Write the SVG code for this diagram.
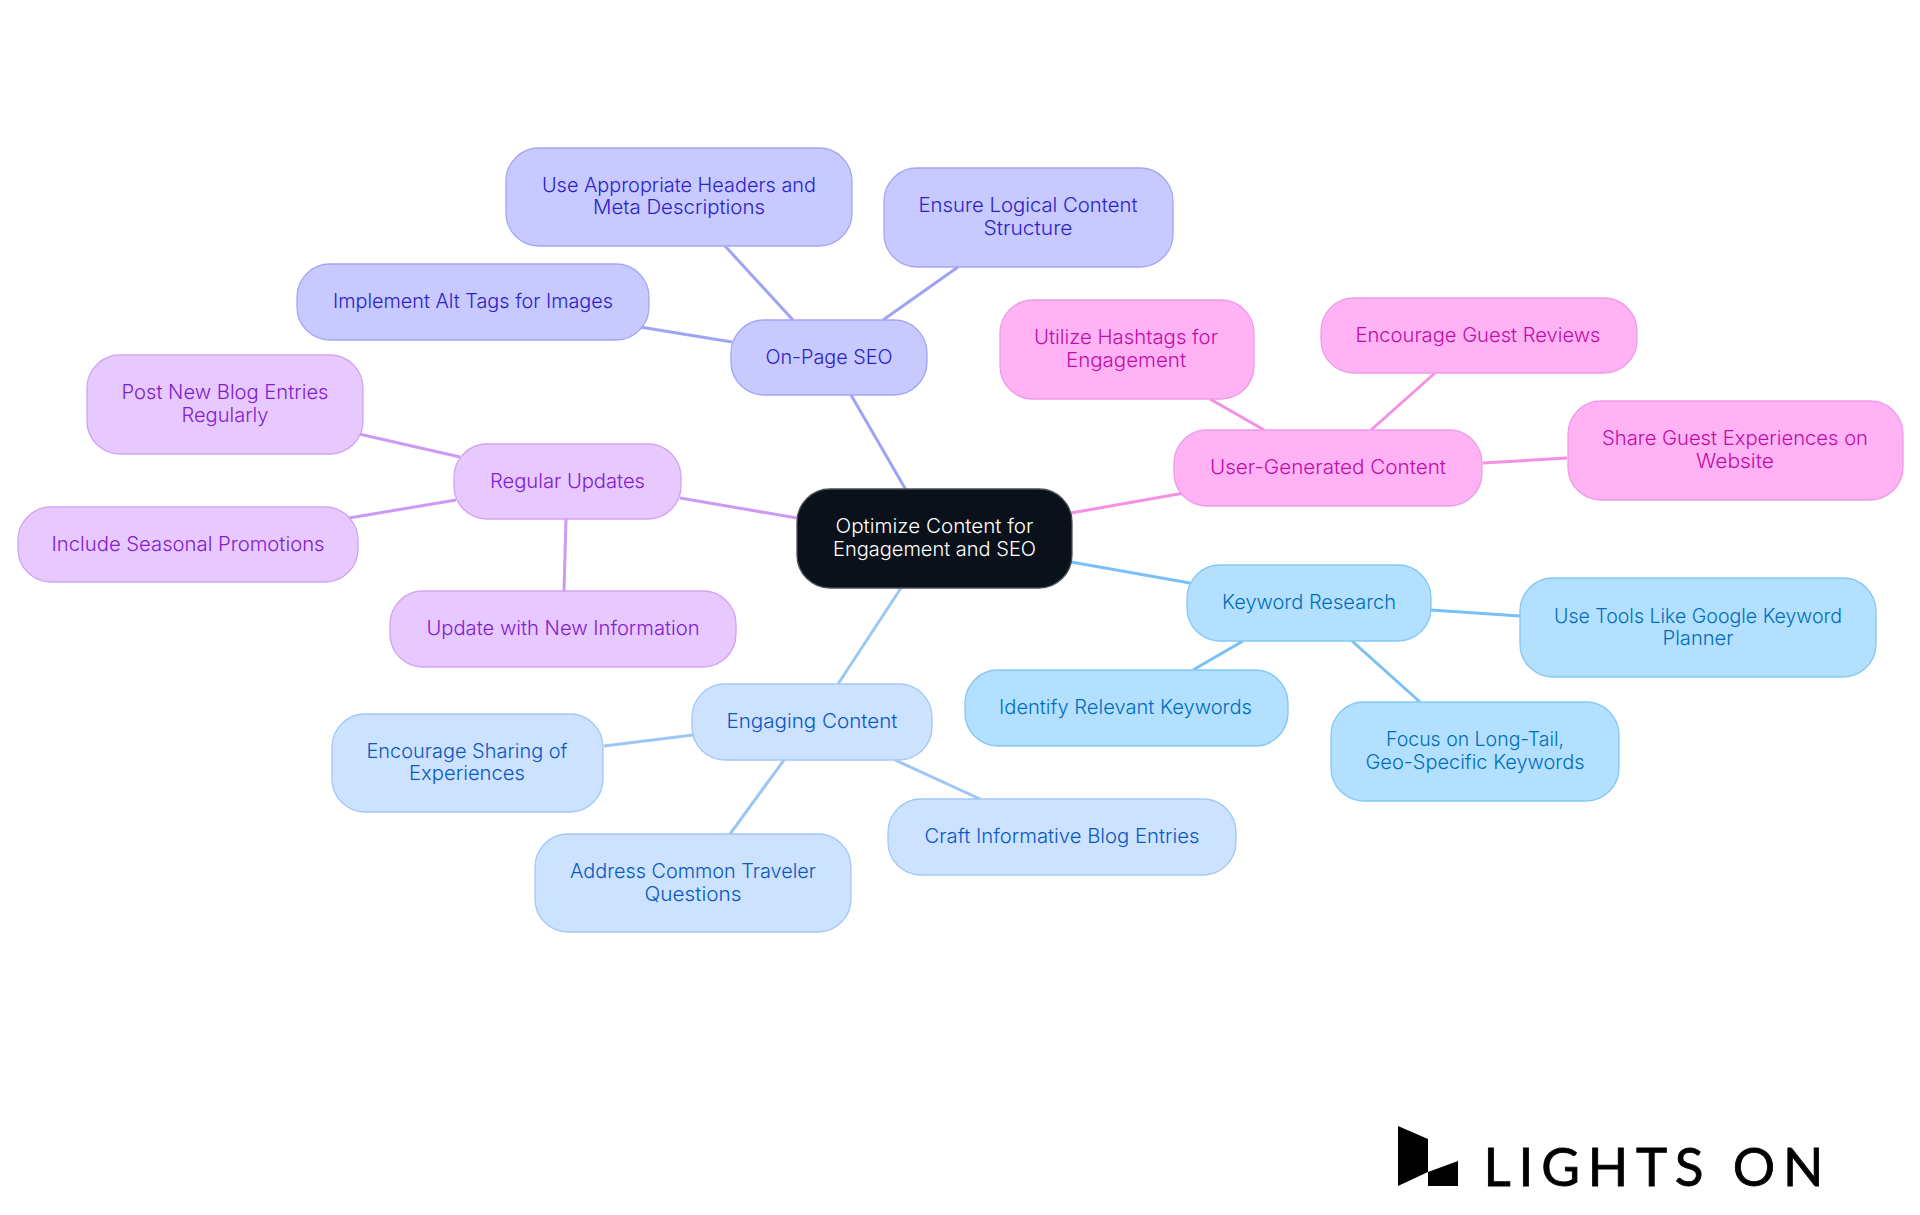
<svg xmlns="http://www.w3.org/2000/svg" width="1920" height="1215" viewBox="0 0 1920 1215">
<style>
text{font-family:"Inter","Noto Sans","Liberation Sans",sans-serif;font-size:20px;font-weight:360;text-anchor:middle}
rect{stroke-width:1.3}
#connectors line{stroke-width:3;fill:none}
.i rect{fill:#c7c9ff;stroke:#a3a6f5}.i text{fill:#2c22c8}
.p rect{fill:#ffb3f5;stroke:#f09ae6}.p text{fill:#c00ca8}
.s rect{fill:#b3e0ff;stroke:#84c7f5}.s text{fill:#006ebc}
.b rect{fill:#cce2ff;stroke:#a2c9f5}.b text{fill:#0a58c4}
.v rect{fill:#e8c9ff;stroke:#d2a2f5}.v text{fill:#7f20d0}
.il{stroke:#a0a3f5}.pl{stroke:#f590e2}.sl{stroke:#78c0f5}.bl{stroke:#9ec6f5}.vl{stroke:#cc99f5}
</style>
<rect width="1920" height="1215" fill="#fff" stroke="none"/>
<g id="connectors">
<line class="il" x1="851" y1="395" x2="906" y2="490"/>
<line class="vl" x1="680" y1="498" x2="797" y2="518"/>
<line class="pl" x1="1071" y1="513" x2="1184" y2="493"/>
<line class="sl" x1="1071" y1="562" x2="1190" y2="583"/>
<line class="bl" x1="901" y1="588" x2="838" y2="684"/>
<line class="il" x1="725" y1="246" x2="793" y2="320"/>
<line class="il" x1="640" y1="327" x2="732" y2="342"/>
<line class="il" x1="958" y1="267" x2="883" y2="320"/>
<line class="vl" x1="359" y1="434" x2="460" y2="457"/>
<line class="vl" x1="349" y1="518" x2="456" y2="500"/>
<line class="vl" x1="566" y1="519" x2="564" y2="591"/>
<line class="pl" x1="1210" y1="399" x2="1264" y2="430"/>
<line class="pl" x1="1435" y1="373" x2="1371" y2="430"/>
<line class="pl" x1="1483" y1="463" x2="1567" y2="458"/>
<line class="sl" x1="1431" y1="610" x2="1520" y2="616"/>
<line class="sl" x1="1243" y1="641" x2="1193" y2="670"/>
<line class="sl" x1="1352" y1="641" x2="1420" y2="702"/>
<line class="bl" x1="604" y1="746" x2="693" y2="735"/>
<line class="bl" x1="784" y1="760" x2="730" y2="834"/>
<line class="bl" x1="895" y1="760" x2="980" y2="799"/>
</g>
<g id="center"><rect x="797" y="489" width="275" height="99" rx="33" fill="#0b111a" stroke="#4a4f57"/>
<text x="934.5" y="533" fill="#fff" textLength="198" lengthAdjust="spacingAndGlyphs">Optimize Content for</text>
<text x="934.5" y="556" fill="#fff" textLength="203" lengthAdjust="spacingAndGlyphs">Engagement and SEO</text></g>

<g id="on-page-seo" class="i"><rect x="731" y="320" width="196" height="75" rx="33"/><text x="829" y="364" textLength="127" lengthAdjust="spacingAndGlyphs">On-Page SEO</text></g>
<g id="use-headers" class="i"><rect x="506" y="148" width="346" height="98" rx="33"/><text x="679" y="192" textLength="274" lengthAdjust="spacingAndGlyphs">Use Appropriate Headers and</text><text x="679" y="214" textLength="172" lengthAdjust="spacingAndGlyphs">Meta Descriptions</text></g>
<g id="implement-alt" class="i"><rect x="297" y="264" width="352" height="76" rx="33"/><text x="473" y="308" textLength="280" lengthAdjust="spacingAndGlyphs">Implement Alt Tags for Images</text></g>
<g id="ensure-structure" class="i"><rect x="884" y="168" width="289" height="99" rx="33"/><text x="1028" y="212" textLength="219" lengthAdjust="spacingAndGlyphs">Ensure Logical Content</text><text x="1028" y="235" textLength="89" lengthAdjust="spacingAndGlyphs">Structure</text></g>

<g id="ugc" class="p"><rect x="1174" y="430" width="308" height="76" rx="33"/><text x="1328" y="474" textLength="236" lengthAdjust="spacingAndGlyphs">User-Generated Content</text></g>
<g id="utilize-hashtags" class="p"><rect x="1000" y="300" width="254" height="99" rx="33"/><text x="1126" y="344" textLength="184" lengthAdjust="spacingAndGlyphs">Utilize Hashtags for</text><text x="1126" y="367" textLength="120" lengthAdjust="spacingAndGlyphs">Engagement</text></g>
<g id="guest-reviews" class="p"><rect x="1321" y="298" width="316" height="75" rx="33"/><text x="1478" y="342" textLength="245" lengthAdjust="spacingAndGlyphs">Encourage Guest Reviews</text></g>
<g id="share-guest" class="p"><rect x="1568" y="401" width="335" height="99" rx="33"/><text x="1735" y="445" textLength="266" lengthAdjust="spacingAndGlyphs">Share Guest Experiences on</text><text x="1735" y="468" textLength="78" lengthAdjust="spacingAndGlyphs">Website</text></g>

<g id="keyword-research" class="s"><rect x="1187" y="565" width="244" height="76" rx="33"/><text x="1309" y="609" textLength="174" lengthAdjust="spacingAndGlyphs">Keyword Research</text></g>
<g id="use-tools" class="s"><rect x="1520" y="578" width="356" height="99" rx="33"/><text x="1698" y="623" textLength="288" lengthAdjust="spacingAndGlyphs">Use Tools Like Google Keyword</text><text x="1698" y="645" textLength="71" lengthAdjust="spacingAndGlyphs">Planner</text></g>
<g id="identify-keywords" class="s"><rect x="965" y="670" width="323" height="76" rx="33"/><text x="1125.5" y="714" textLength="253" lengthAdjust="spacingAndGlyphs">Identify Relevant Keywords</text></g>
<g id="focus-long-tail" class="s"><rect x="1331" y="702" width="288" height="99" rx="33"/><text x="1475" y="746" textLength="178" lengthAdjust="spacingAndGlyphs">Focus on Long-Tail,</text><text x="1475" y="769" textLength="219" lengthAdjust="spacingAndGlyphs">Geo-Specific Keywords</text></g>

<g id="engaging-content" class="b"><rect x="692" y="684" width="240" height="76" rx="33"/><text x="812" y="728" textLength="171" lengthAdjust="spacingAndGlyphs">Engaging Content</text></g>
<g id="encourage-sharing" class="b"><rect x="332" y="714" width="271" height="98" rx="33"/><text x="467" y="758" textLength="201" lengthAdjust="spacingAndGlyphs">Encourage Sharing of</text><text x="467" y="780" textLength="116" lengthAdjust="spacingAndGlyphs">Experiences</text></g>
<g id="address-questions" class="b"><rect x="535" y="834" width="316" height="98" rx="33"/><text x="693" y="878" textLength="246" lengthAdjust="spacingAndGlyphs">Address Common Traveler</text><text x="693" y="901" textLength="97" lengthAdjust="spacingAndGlyphs">Questions</text></g>
<g id="craft-blog" class="b"><rect x="888" y="799" width="348" height="76" rx="33"/><text x="1062" y="843" textLength="275" lengthAdjust="spacingAndGlyphs">Craft Informative Blog Entries</text></g>

<g id="regular-updates" class="v"><rect x="454" y="444" width="227" height="75" rx="33"/><text x="567.5" y="488" textLength="155" lengthAdjust="spacingAndGlyphs">Regular Updates</text></g>
<g id="post-blog" class="v"><rect x="87" y="355" width="276" height="99" rx="33"/><text x="225" y="399" textLength="207" lengthAdjust="spacingAndGlyphs">Post New Blog Entries</text><text x="225" y="422" textLength="87" lengthAdjust="spacingAndGlyphs">Regularly</text></g>
<g id="seasonal-promotions" class="v"><rect x="18" y="507" width="340" height="75" rx="33"/><text x="188" y="551" textLength="273" lengthAdjust="spacingAndGlyphs">Include Seasonal Promotions</text></g>
<g id="update-info" class="v"><rect x="390" y="591" width="346" height="76" rx="33"/><text x="563" y="635" textLength="273" lengthAdjust="spacingAndGlyphs">Update with New Information</text></g>

<g id="logo">
<polygon points="1398,1126 1428,1139 1428,1172 1398,1186" fill="#000"/>
<polygon points="1428,1172 1458,1161 1458,1186 1428,1186" fill="#000"/>
<text x="1653.500" y="1186" fill="#000" stroke="#000" stroke-width="0.8" style="font-family:'Lato','Open Sans',sans-serif;font-size:53px;font-weight:400" textLength="340" lengthAdjust="spacing">LIGHTS ON</text>
</g>
</svg>
